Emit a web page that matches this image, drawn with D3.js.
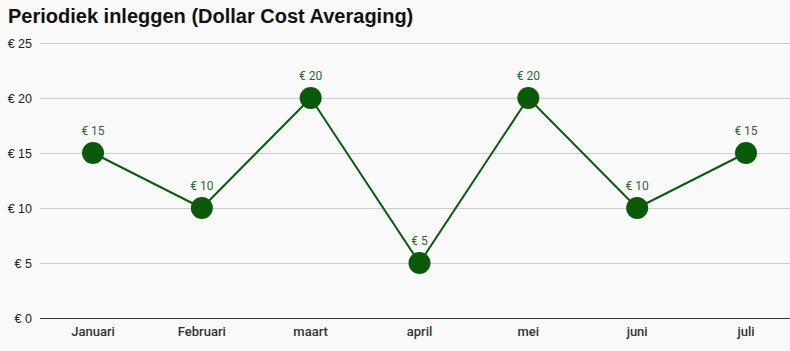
<!DOCTYPE html>
<html>
<head>
<meta charset="utf-8">
<script src="https://cdn.jsdelivr.net/npm/d3@7"></script>
<style>
  body { margin: 0; background: #f9f9f9; }
  svg { display: block; font-family: "Liberation Sans", Arial, sans-serif; }
</style>
</head>
<body>
<div id="chart"></div>
<script>
// chart data
var months = ["Januari", "Februari", "maart", "april", "mei", "juni", "juli"];
var amounts = [15, 10, 20, 5, 20, 10, 15];
var yTicks = [0, 5, 10, 15, 20, 25];

var width = 790, height = 351;
var green = "#0b5a0b";

var svg = d3.select("#chart").append("svg")
    .attr("width", width)
    .attr("height", height);

svg.append("rect").attr("width", width).attr("height", height).attr("fill", "#f9f9f9");

var x = d3.scaleBand().domain(months).range([38.6, 800.4]);
var y = d3.scaleLinear().domain([0, 25]).range([318, 43]);

// title
svg.append("text")
    .attr("x", 8)
    .attr("y", 23)
    .attr("font-size", 20)
    .attr("font-weight", "bold")
    .attr("fill", "#111")
    .text("Periodiek inleggen (Dollar Cost Averaging)");

// grid lines
svg.append("g").selectAll("line")
    .data(yTicks)
    .enter().append("line")
    .attr("x1", 40)
    .attr("x2", width)
    .attr("y1", function(d) { return y(d) + 0.5; })
    .attr("y2", function(d) { return y(d) + 0.5; })
    .attr("stroke", function(d) { return d == 0 ? "#333" : "#ccc"; })
    .attr("stroke-width", 1);

// y labels
svg.append("g").selectAll("text")
    .data(yTicks)
    .enter().append("text")
    .attr("x", 32)
    .attr("y", function(d) { return y(d) + 4.5; })
    .attr("text-anchor", "end")
    .attr("font-size", 12.5)
    .attr("fill", "#222")
    .text(function(d) { return "€ " + d; });

// x labels
svg.append("g").selectAll("text")
    .data(months)
    .enter().append("text")
    .attr("x", function(d) { return x(d) + x.bandwidth() / 2; })
    .attr("y", 336)
    .attr("text-anchor", "middle")
    .attr("font-family", "Roboto, sans-serif")
    .attr("font-size", 13)
    .attr("font-weight", 500)
    .attr("fill", "#333")
    .text(function(d) { return d; });

var points = months.map(function(m, i) { return {m: m, v: amounts[i]}; });

var line = d3.line()
    .x(function(d) { return x(d.m) + x.bandwidth() / 2; })
    .y(function(d) { return y(d.v); });

svg.append("path")
    .datum(points)
    .attr("d", line)
    .attr("fill", "none")
    .attr("stroke", green)
    .attr("stroke-width", 2);

svg.append("g").selectAll("circle")
    .data(points)
    .enter().append("circle")
    .attr("cx", function(d) { return x(d.m) + x.bandwidth() / 2; })
    .attr("cy", function(d) { return y(d.v); })
    .attr("r", 11)
    .attr("fill", green);

svg.append("g").selectAll("text")
    .data(points)
    .enter().append("text")
    .attr("x", function(d) { return x(d.m) + x.bandwidth() / 2; })
    .attr("y", function(d) { return y(d.v) - 18; })
    .attr("text-anchor", "middle")
    .attr("font-family", "Roboto, sans-serif")
    .attr("font-size", 12)
    .attr("fill", "#2d6a2d")
    .text(function(d) { return "€ " + d.v; });
</script>
</body>
</html>
